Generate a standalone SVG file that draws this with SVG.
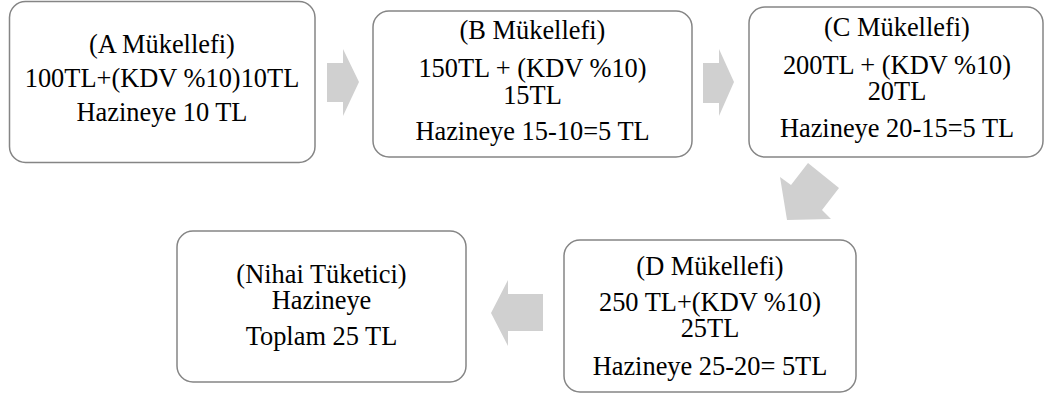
<svg xmlns="http://www.w3.org/2000/svg" width="1045" height="394" viewBox="0 0 1045 394">
<style>
.box{fill:#ffffff;stroke:#858585;stroke-width:1.5}
.t{font-family:"Liberation Serif","Times New Roman",serif;font-size:26.4px;fill:#000;text-anchor:middle}
.arr{fill:#d0d0d0;stroke:none}
</style>
<rect width="1045" height="394" fill="#ffffff"/>
<g id="connectors">
<polygon class="arr" points="327,63 343,63 343,49 359,82 343,116 343,102 327,102"/>
<polygon class="arr" points="703,63 719,63 719,49 734,82 719,116 719,103 703,103"/>
<polygon class="arr" points="808,163 839,188 822,210 831,219 787,220 780,177 791,185"/>
<polygon class="arr" points="543,294 508,294 508,280 491,313 508,346 508,331 543,331"/>
</g>
<g id="nodeA">
<rect class="box" x="9.5" y="1.5" width="305.5" height="161" rx="16"/>
<text class="t" x="162" y="53">(A Mükellefi)</text>
<text class="t" x="162" y="87">100TL+(KDV %10)10TL</text>
<text class="t" x="162" y="121">Hazineye 10 TL</text>
</g>
<g id="nodeB">
<rect class="box" x="373" y="11" width="319" height="146" rx="16"/>
<text class="t" x="532.5" y="39">(B Mükellefi)</text>
<text class="t" x="532.5" y="77">150TL + (KDV %10)</text>
<text class="t" x="532.5" y="104">15TL</text>
<text class="t" x="532.5" y="140">Hazineye 15-10=5 TL</text>
</g>
<g id="nodeC">
<rect class="box" x="749" y="7" width="294" height="150" rx="16"/>
<text class="t" x="897" y="36">(C Mükellefi)</text>
<text class="t" x="897" y="74">200TL + (KDV %10)</text>
<text class="t" x="897" y="100">20TL</text>
<text class="t" x="897" y="137">Hazineye 20-15=5 TL</text>
</g>
<g id="nodeD">
<rect class="box" x="564" y="240" width="292" height="152" rx="16"/>
<text class="t" x="710" y="275">(D Mükellefi)</text>
<text class="t" x="710" y="311">250 TL+(KDV %10)</text>
<text class="t" x="710" y="337">25TL</text>
<text class="t" x="710" y="375">Hazineye 25-20= 5TL</text>
</g>
<g id="nodeN">
<rect class="box" x="177" y="231" width="289" height="151" rx="16"/>
<text class="t" x="321.5" y="283">(Nihai Tüketici)</text>
<text class="t" x="321.5" y="309">Hazineye</text>
<text class="t" x="321.5" y="345">Toplam 25 TL</text>
</g>
</svg>
